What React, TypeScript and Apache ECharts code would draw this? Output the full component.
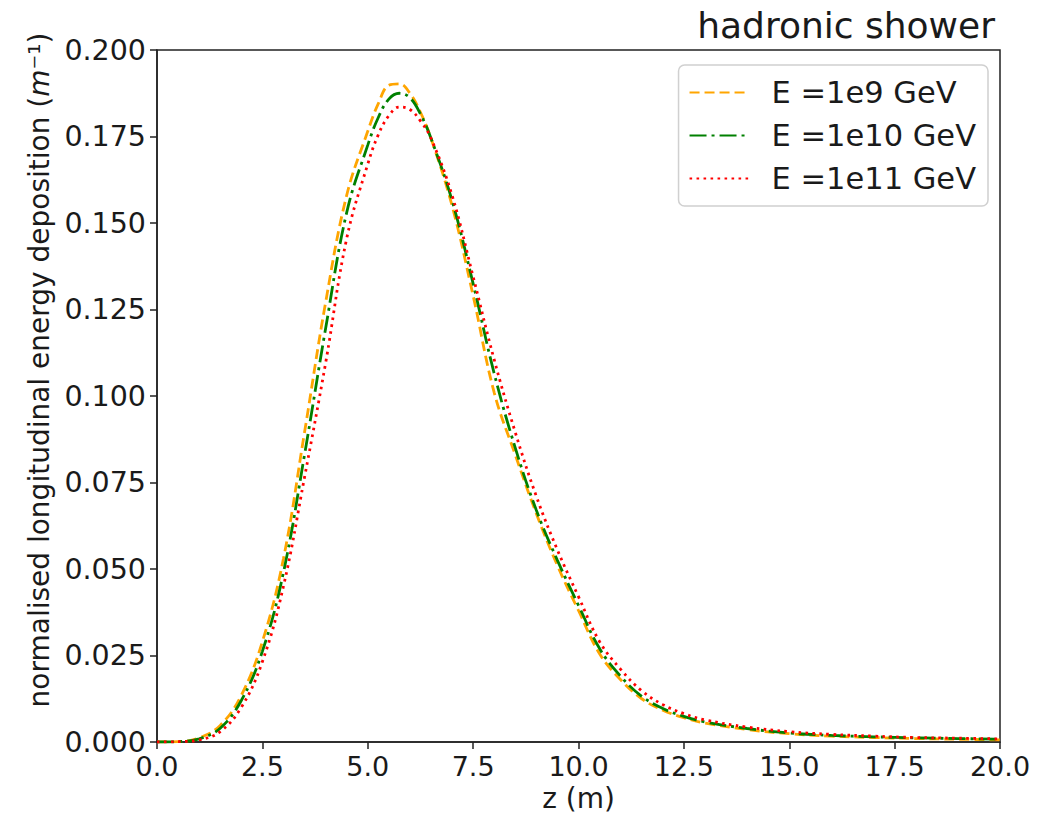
import React, { useEffect, useRef } from "react";
import * as echarts from "echarts";

const zValues = [0, 0.5, 1, 1.5, 2, 2.5, 3, 3.5, 4, 4.5, 5, 5.25, 5.5, 5.75, 6, 6.25, 6.5, 7, 7.5, 8, 8.5, 9, 9.5, 10, 10.5, 11, 11.5, 12, 12.5, 13, 14, 15, 16, 17, 18, 19, 20];

const e9Values = [0, 0.0001, 0.0012, 0.0048, 0.0135, 0.029, 0.053, 0.0895, 0.127, 0.158, 0.1765, 0.1845, 0.1898, 0.1902, 0.1875, 0.182, 0.1745, 0.155, 0.129, 0.101, 0.083, 0.066, 0.051, 0.038, 0.0255, 0.018, 0.0125, 0.0092, 0.007, 0.0055, 0.0036, 0.0024, 0.0017, 0.0013, 0.001, 0.0008, 0.0006];

const e10Values = [0, 0.0001, 0.0009, 0.004, 0.012, 0.0262, 0.049, 0.083, 0.1195, 0.153, 0.1725, 0.1805, 0.1858, 0.1875, 0.1862, 0.1815, 0.1745, 0.1565, 0.1325, 0.1065, 0.085, 0.067, 0.0525, 0.0395, 0.027, 0.019, 0.0132, 0.0097, 0.0074, 0.0058, 0.0039, 0.0026, 0.0019, 0.0015, 0.0012, 0.001, 0.0008];

const e11Values = [0, 0.0001, 0.0006, 0.003, 0.01, 0.0232, 0.045, 0.0765, 0.1095, 0.1455, 0.167, 0.1755, 0.181, 0.1835, 0.1828, 0.1795, 0.1745, 0.158, 0.1345, 0.1105, 0.0895, 0.071, 0.0555, 0.042, 0.029, 0.021, 0.0148, 0.0108, 0.0082, 0.0064, 0.0043, 0.003, 0.0022, 0.0017, 0.0013, 0.0011, 0.0009];

const seriesNames = ["E =1e9 GeV", "E =1e10 GeV", "E =1e11 GeV"];
const seriesColors = ["#FFA500", "#008000", "#FF0000"];
const titleText = "hadronic shower";
const xAxisName = "z (m)";

const FONT = "DejaVu Sans";

export default function App() {
  const ref = useRef<HTMLDivElement>(null);
  useEffect(() => {
    if (!ref.current) return;
    document.body.style.margin = "0";
    const chart = echarts.init(ref.current, null, { renderer: "svg" });
    const pair = (vals: number[]) => zValues.map((z, i) => [z, vals[i]]);
    const dashes: any[] = [[10, 5], [17, 5, 3, 5], [2.6, 4.4]];
    const allVals = [e9Values, e10Values, e11Values];
    chart.setOption({
      animation: false,
      backgroundColor: "#ffffff",
      textStyle: { fontFamily: FONT },
      title: {
        text: titleText,
        right: 40,
        top: 2,
        textStyle: { fontFamily: FONT, fontSize: 36, fontWeight: "normal", color: "#1a1a1a" },
      },
      grid: {
        left: 157,
        right: 40,
        top: 50,
        bottom: 77,
        show: true,
        borderColor: "#222",
        borderWidth: 1.5,
        backgroundColor: "transparent",
        outerBoundsMode: "none",
      },
      legend: {
        orient: "vertical",
        right: 52,
        top: 65,
        padding: [12, 12, 12, 10],
        itemWidth: 60,
        itemHeight: 14,
        itemGap: 12,
        borderColor: "#d0d0d0",
        borderWidth: 1.5,
        borderRadius: 6,
        backgroundColor: "rgba(255,255,255,0.8)",
        itemStyle: { opacity: 0 },
        textStyle: { fontFamily: FONT, fontSize: 30.5, color: "#1a1a1a", padding: [0, 0, 0, 17], lineHeight: 31 },
        data: seriesNames,
      },
      xAxis: {
        type: "value",
        min: 0,
        max: 20,
        interval: 2.5,
        name: xAxisName,
        nameLocation: "middle",
        nameGap: 42,
        nameTextStyle: { fontFamily: FONT, fontSize: 28, color: "#1a1a1a" },
        axisLine: { show: true, onZero: false, lineStyle: { color: "#222", width: 1.5 } },
        axisTick: { show: true, inside: false, length: 7, lineStyle: { color: "#222", width: 1.5 } },
        axisLabel: {
          fontFamily: FONT,
          fontSize: 27,
          color: "#1a1a1a",
          margin: 11,
          formatter: (v: number) => v.toFixed(1),
        },
        splitLine: { show: false },
      },
      yAxis: {
        type: "value",
        min: 0,
        max: 0.2,
        interval: 0.025,
        name: "normalised longitudinal energy deposition ({i|m}⁻¹)",
        nameLocation: "middle",
        nameGap: 102,
        nameRotate: 90,
        nameTextStyle: {
          fontFamily: FONT,
          fontSize: 28,
          color: "#1a1a1a",
          padding: [0, 0, 0, 52],
          rich: { i: { fontFamily: FONT, fontSize: 28, fontStyle: "italic", color: "#1a1a1a" } },
        },
        axisLine: { show: true, onZero: false, lineStyle: { color: "#222", width: 1.5 } },
        axisTick: { show: true, inside: false, length: 7, lineStyle: { color: "#222", width: 1.5 } },
        axisLabel: {
          fontFamily: FONT,
          fontSize: 28.5,
          color: "#1a1a1a",
          margin: 11,
          formatter: (v: number) => v.toFixed(3),
        },
        splitLine: { show: false },
      },
      series: seriesNames.map((name, k) => ({
        name,
        type: "line",
        data: pair(allVals[k]),
        smooth: 0.4,
        showSymbol: false,
        symbol: "none",
        color: seriesColors[k],
        lineStyle: { color: seriesColors[k], width: 2.8, type: dashes[k], cap: "butt" },
        itemStyle: { color: seriesColors[k] },
        z: 2 + k,
      })),
    });
    return () => chart.dispose();
  }, []);
  return <div ref={ref} style={{ width: 1040, height: 819 }} />;
}
